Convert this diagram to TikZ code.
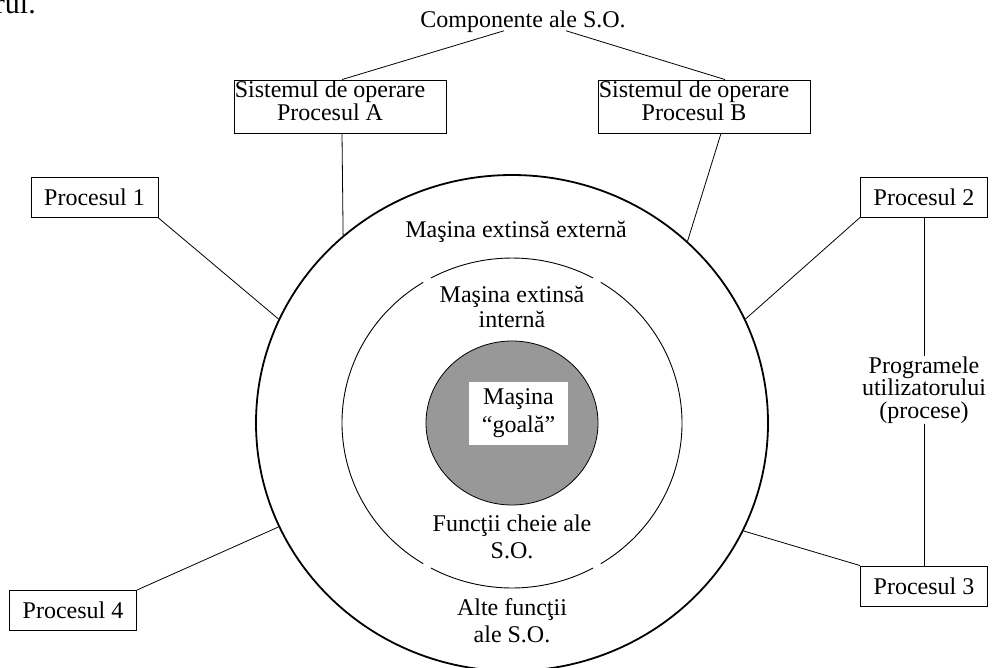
\documentclass[tikz,border=0pt]{standalone}
\usepackage{fontspec}
\setmainfont{Liberation Serif}
\usetikzlibrary{shapes.geometric,calc}
\definecolor{coregray}{RGB}{152,152,152}
\tikzset{
  lbl/.style={font=\fontsize{24}{24}\selectfont, align=center, inner sep=0pt},
  pbox/.style={draw, line width=0.9pt, minimum width=127pt, minimum height=40pt,
               inner sep=0pt, font=\fontsize{24}{24}\selectfont},
  sbox/.style={draw, line width=0.9pt, minimum width=212pt, minimum height=53pt, inner sep=0pt},
  link/.style={line width=0.8pt},
  midring/.style={line width=0.9pt},
}
\begin{document}
\begin{tikzpicture}[x=1pt,y=-1pt]
\useasboundingbox (0,0) rectangle (993,667);

% fragment of the preceding line of text
\node[lbl, anchor=base east, font=\fontsize{30}{30}\selectfont] (frag) at (36,13) {rul.};

% title and the two system boxes
\node[lbl] (comp) at (523,22) {Componente ale S.O.};
\node[sbox] (pa) at (340,106.5) {};
\node[lbl, anchor=north west, font=\fontsize{24}{21}\selectfont]
  (pat) at ([xshift=1pt,yshift=-1.5pt]pa.north west) {Sistemul de operare\\Procesul A};
\node[sbox] (pb) at (704,106.5) {};
\node[lbl, anchor=north west, font=\fontsize{24}{21}\selectfont]
  (pbt) at ([xshift=1pt,yshift=-1.5pt]pb.north west) {Sistemul de operare\\Procesul B};

% user processes
\node[pbox] (p1) at (94.5,197.5) {Procesul 1};
\node[pbox] (p2) at (924,197) {Procesul 2};
\node[pbox] (p3) at (924,586) {Procesul 3};
\node[pbox] (p4) at (73,610.5) {Procesul 4};
\node[lbl, font=\fontsize{24}{22.5}\selectfont] (prog) at (924,390)
  {Programele\\utilizatorului\\(procese)};

% rings
\node[ellipse, draw, line width=1.8pt, minimum width=512pt, minimum height=496pt,
      inner sep=0pt] (outer) at (512,423) {};
\foreach \s/\e in {61.5/118.5, 121.5/238.5, 241.5/298.5, 301.5/418.5}
  \draw[midring] (512,423) ++(\s:170 and 165)
    arc[start angle=\s, end angle=\e, x radius=170, y radius=165];
\node[ellipse, draw, line width=0.8pt, fill=coregray, minimum width=172pt,
      minimum height=164pt, inner sep=0pt] (core) at (512,423) {};
\node[fill=white, minimum width=99pt, minimum height=63pt, inner sep=0pt, align=center,
      font=\fontsize{24}{28}\selectfont] (bare) at (518.5,413.5) {Maşina\\“goală”};

% ring labels
\node[lbl] (ext) at (516,232) {Maşina extinsă externă};
\node[lbl, font=\fontsize{24}{25}\selectfont] (intl) at (512,307) {Maşina extinsă\\internă};
\node[lbl, font=\fontsize{24}{27}\selectfont] (key) at (512,537) {Funcţii cheie ale\\S.O.};
\node[lbl, font=\fontsize{24}{27}\selectfont] (other) at (512,621) {Alte funcţii\\ale S.O.};

% connectors
\draw[link] ([xshift=-19pt,yshift=-3pt]comp.base) -- ([xshift=2pt]pa.north);
\draw[link] ([xshift=43pt,yshift=-3pt]comp.base) -- ([xshift=21pt]pb.north);
\draw[link] ([xshift=2pt]pa.south) -- (outer.132.4);
\draw[link] ([xshift=17pt]pb.south) -- (outer.46.9);
\draw[link] (p1.south east) -- (outer.156.2);
\draw[link] (p4.north east) -- (outer.204.3);
\draw[link] (p2.south west) -- (outer.24.3);
\draw[link] (p3.north west) -- (outer.335.9);
\draw[link] (p2.south) -- (prog.north);
\draw[link] (prog.south) -- (p3.north);
\end{tikzpicture}
\end{document}
